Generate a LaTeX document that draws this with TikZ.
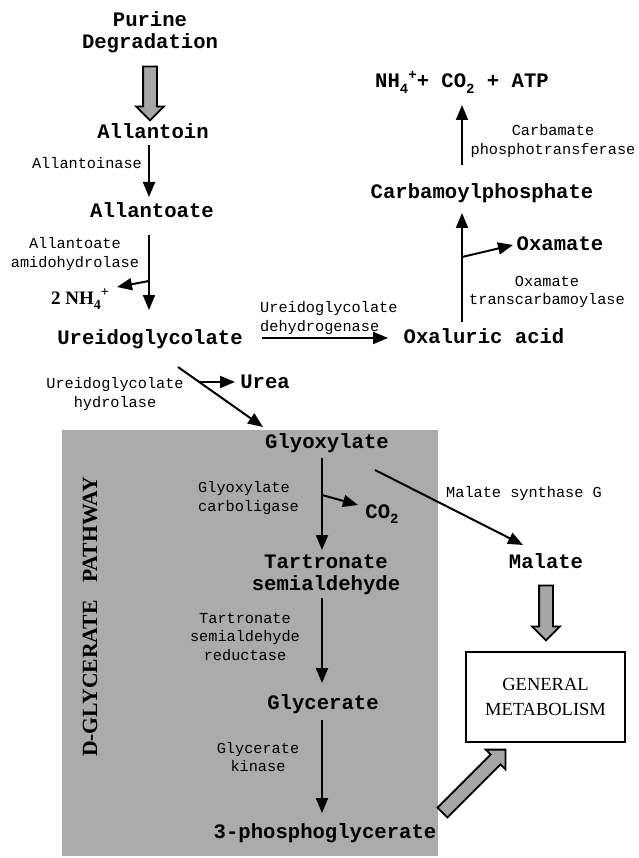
\documentclass[tikz,border=0pt]{standalone}
\usepackage{fontspec}
\setmainfont{Liberation Serif}
\newfontfamily\cour{Liberation Mono}
\usetikzlibrary{arrows.meta,shapes.arrows,calc}
\newcommand\BigF{\cour\bfseries\fontsize{20.6}{22.5}\selectfont}
\newcommand\SmF{\cour\fontsize{15.25}{18.5}\selectfont}
\newcommand\lo[1]{\raisebox{-0.28em}{\fontsize{14}{14}\selectfont #1}}
\newcommand\hi[1]{\raisebox{0.42em}{\fontsize{14}{14}\selectfont #1}}
\begin{document}
\begin{tikzpicture}[x=1pt,y=-1pt,
  met/.style={font=\BigF, inner sep=0pt, text height=12pt, text depth=0pt},
  metm/.style={font=\BigF, inner sep=0pt, align=center},
  lab/.style={font=\SmF, inner sep=0pt, text height=8.8pt, text depth=0pt},
  labm/.style={font=\SmF, inner sep=0pt, align=center},
  rx/.style={-{Triangle[length=15pt,width=12pt]}, line width=2pt},
  hollow/.style={single arrow, draw=black, line width=1.8pt, fill=black!35,
    single arrow head extend=7pt, inner xsep=0pt, inner ysep=6pt, minimum width=1pt},
  genbox/.style={draw=black, line width=2.6pt, minimum width=159pt, minimum height=90pt,
    align=center, font=\fontsize{18.5}{25}\selectfont}
]
\useasboundingbox (0,0) rectangle (638,858);
\fill[black!33] (62,430) rectangle (438,856);
\node[rotate=90, font=\bfseries\fontsize{21.7}{22}\selectfont, inner sep=0pt] (dgp) at (90,617) {D-GLYCERATE\hspace{0.8em}PATHWAY};

% metabolites
\node[metm] (purine) at (150,32) {Purine\\Degradation};
\node[met] (allantoin) at (153,133) {Allantoin};
\node[met] (allantoate) at (152,212) {Allantoate};
\node[font=\bfseries\fontsize{19}{19}\selectfont, inner sep=0pt] (nh4) at (80,299) {2 NH\lo{4}\hi{+}};
\node[met] (ureido) at (150,338) {Ureidoglycolate};
\node[met] (oxaluric) at (484,337) {Oxaluric acid};
\node[met] (oxamate) at (560,245) {Oxamate};
\node[met] (carbamoyl) at (482,193) {Carbamoylphosphate};
\node[met] (products) at (462,82) {NH\lo{4}\hi{+}+ CO\lo{2} + ATP};
\node[met] (urea) at (265,382) {Urea};
\node[met] (glyoxylate) at (327,442) {Glyoxylate};
\node[met] (co2) at (382,512) {CO\lo{2}};
\node[metm] (tartronate) at (326,575) {Tartronate\\semialdehyde};
\node[met] (glycerate) at (323,703) {Glycerate};
\node[met] (pg3) at (325,832) {3-phosphoglycerate};
\node[met] (malate) at (546,562) {Malate};
\node[genbox] (genmet) at (545.5,697) {GENERAL\\METABOLISM};

% enzyme labels
\node[lab] (l1) at (87,164) {Allantoinase};
\node[labm] (l2) at (75,254) {Allantoate\\amidohydrolase};
\node[labm, align=left, anchor=west] (l3) at (260,318) {Ureidoglycolate\\dehydrogenase};
\node[labm] (l4) at (115,394) {Ureidoglycolate\\hydrolase};
\node[labm] (l5) at (553,141) {Carbamate\\phosphotransferase};
\node[labm] (l6) at (547,292) {Oxamate\\transcarbamoylase};
\node[labm, align=left, anchor=west] (l7) at (198,498) {Glyoxylate\\carboligase};
\node[labm] (l8) at (245,637) {Tartronate\\semialdehyde\\reductase};
\node[labm] (l9) at (258,757) {Glycerate\\kinase};
\node[lab] (l10) at (524,493) {Malate synthase G};

% reaction arrows
\draw[rx] ([shift={(-4,12)}]allantoin.center) -- ([shift={(-3,-15)}]allantoate.center);
\draw[rx] ([shift={(-3,23)}]allantoate.center) -- ([shift={(-1,-28)}]ureido.center);
\draw[rx] ([shift={(-3,69)}]allantoate.center) -- ([shift={(37,-12)}]nh4.center);
\draw[rx] ([shift={(112,0)}]ureido.center) -- ([shift={(-96,1)}]oxaluric.center);
\draw[rx] ([shift={(-22,-15)}]oxaluric.center) -- ([shift={(-20,20)}]carbamoyl.center);
\draw[rx] ([shift={(-22,-80)}]oxaluric.center) -- ([shift={(-47,0)}]oxamate.center);
\draw[rx] ([shift={(-20,-28)}]carbamoyl.center) -- ([shift={(0,23)}]products.center);
\draw[rx] ([shift={(28,29)}]ureido.center) -- ([shift={(-64,-15)}]glyoxylate.center);
\draw[rx] ([shift={(49,44)}]ureido.center) -- ([shift={(-30,0)}]urea.center);
\draw[rx] ([shift={(-5,16)}]glyoxylate.center) -- ([shift={(-4,-25)}]tartronate.center);
\draw[rx] ([shift={(-5,53)}]glyoxylate.center) -- ([shift={(-24,-7)}]co2.center);
\draw[rx] ([shift={(48,28)}]glyoxylate.center) -- ([shift={(-23,-17)}]malate.center);
\draw[rx] ([shift={(-4,23)}]tartronate.center) -- ([shift={(-1,-20)}]glycerate.center);
\draw[rx] ([shift={(-1,17)}]glycerate.center) -- ([shift={(-3,-19)}]pg3.center);

% hollow arrows
\node[hollow, minimum height=54pt, rotate=-90] (h1) at (150,90) {};
\node[hollow, minimum height=55pt, rotate=-90] (h2) at (546,609.5) {};
\node[hollow, minimum height=89pt, rotate=45] (h3) at (471.5,783.5) {};
\end{tikzpicture}
\end{document}
